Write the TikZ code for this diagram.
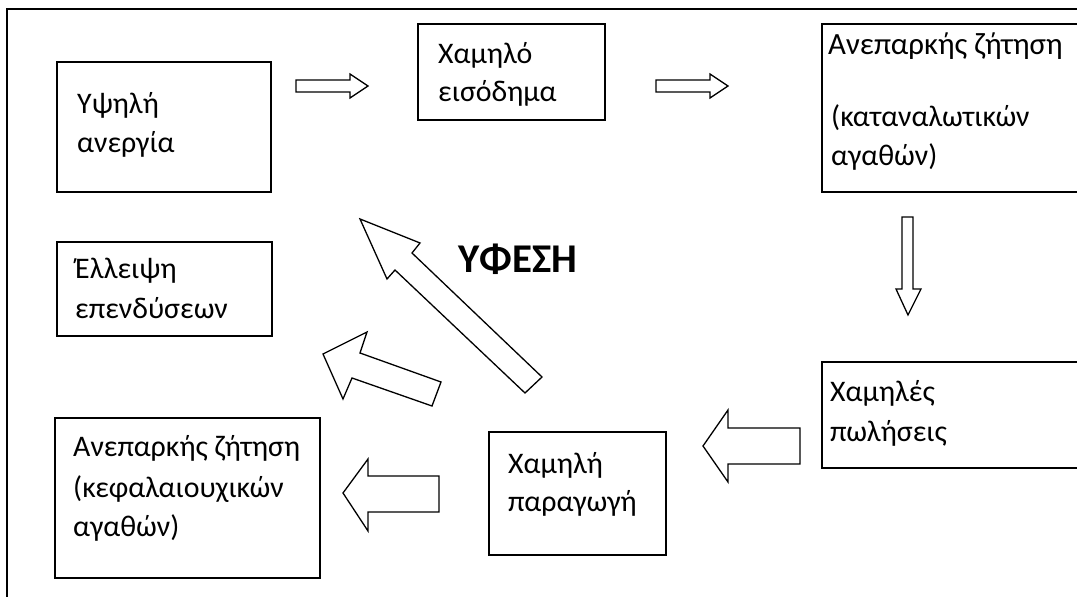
\documentclass[tikz,border=0pt]{standalone}
\usepackage{fontspec}
\setmainfont{Carlito}
\begin{document}
\begin{tikzpicture}[x=1bp,y=-1bp,
  box/.style={draw,line width=1.3bp},
  blockarrow/.style={draw,line width=1.3bp,fill=white,line join=miter},
  lbl/.style={anchor=base west,inner sep=0pt,font=\fontsize{30}{36}\selectfont},
  title/.style={anchor=base,inner sep=0pt,font=\fontsize{41}{46}\selectfont\bfseries}]
\useasboundingbox (0,0) rectangle (1077,597);
\fill[white] (0,0) rectangle (1077,597);
% outer frame
\draw[line width=1.5bp] (7,620) -- (7,9) -- (1100,9);

% boxes
\draw[box] (57,62) rectangle (271,192);
\draw[box] (418,24) rectangle (605,120);
\draw[box] (1100,24) -- (822,24) -- (822,192) -- (1100,192);
\draw[box] (57,242) rectangle (272,336);
\draw[box] (1100,362) -- (822,362) -- (822,468) -- (1100,468);
\draw[box] (489,432) rectangle (666,555);
\draw[box] (55,418) rectangle (320,578);

% texts
\node[lbl] (t1a) at (77,114) {Υψηλή};
\node[lbl] (t1b) at (77,153) {ανεργία};
\node[lbl] (t2a) at (438,64) {Χαμηλό};
\node[lbl] (t2b) at (438,102) {εισόδημα};
\node[lbl,font=\fontsize{31}{36}\selectfont] (t3a) at (828,55) {Ανεπαρκής ζήτηση};
\node[lbl] (t3b) at (831,127) {(καταναλωτικών};
\node[lbl] (t3c) at (831,166) {αγαθών)};
\node[lbl] (t4a) at (75,279) {Έλλειψη};
\node[lbl] (t4b) at (75,319) {επενδύσεων};
\node[lbl] (t5a) at (830,401) {Χαμηλές};
\node[lbl] (t5b) at (830,441) {πωλήσεις};
\node[lbl] (t6a) at (508,473) {Χαμηλή};
\node[lbl] (t6b) at (508,511) {παραγωγή};
\node[lbl] (t7a) at (73,456) {Ανεπαρκής ζήτηση};
\node[lbl] (t7b) at (73,497) {(κεφαλαιουχικών};
\node[lbl] (t7c) at (73,536) {αγαθών)};
\node[title] (rec) at (518,273) {ΥΦΕΣΗ};

% block arrows
\draw[blockarrow] (296,80) -- (350,80) -- (350,74) -- (368,86) -- (350,98) -- (350,92) -- (296,92) -- cycle;
\draw[blockarrow] (656,80) -- (710,80) -- (710,74) -- (728,86) -- (710,98) -- (710,92) -- (656,92) -- cycle;
\draw[blockarrow] (902,217) -- (913,217) -- (913,289) -- (921,289) -- (908,315) -- (896,289) -- (902,289) -- cycle;
\draw[blockarrow] (800,428) -- (728,428) -- (728,410) -- (703,446) -- (728,482) -- (728,464) -- (800,464) -- cycle;
\draw[blockarrow] (439,476) -- (368,476) -- (368,459) -- (343,493) -- (368,531) -- (368,512) -- (439,512) -- cycle;
\draw[blockarrow] (323,354) -- (367,332) -- (360,353) -- (441,382) -- (432,406) -- (352,378) -- (343,399) -- cycle;
\draw[blockarrow] (360,219) -- (420,243) -- (412,253) -- (542,377) -- (525,393) -- (395,270) -- (387,279) -- cycle;
\end{tikzpicture}
\end{document}
